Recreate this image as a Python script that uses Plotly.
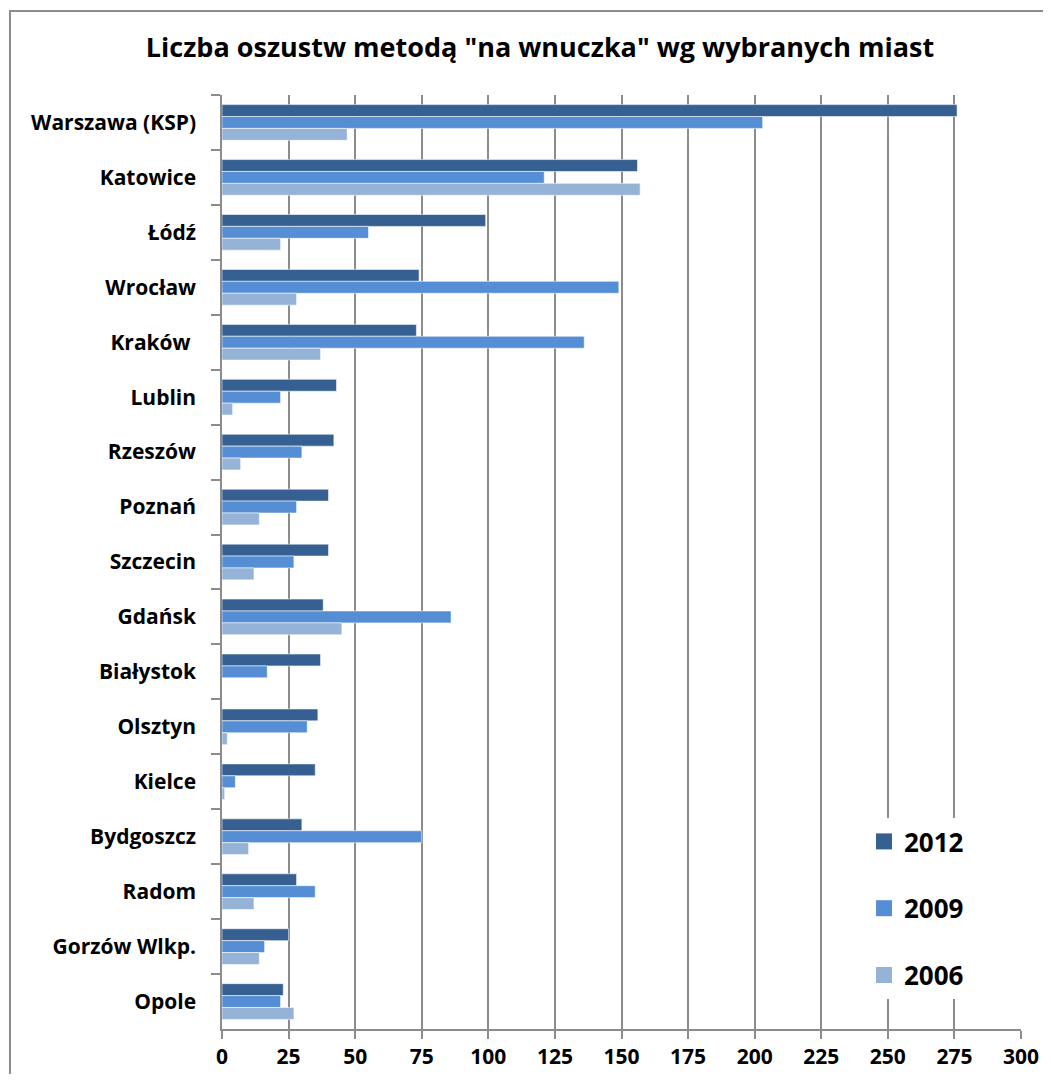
import plotly.graph_objects as go

cities = ["Warszawa (KSP)", "Katowice", "Łódź", "Wrocław", "Kraków ", "Lublin", "Rzeszów",
          "Poznań", "Szczecin", "Gdańsk", "Białystok", "Olsztyn", "Kielce", "Bydgoszcz",
          "Radom", "Gorzów Wlkp.", "Opole"]
v2012 = [276, 156, 99, 74, 73, 43, 42, 40, 40, 38, 37, 36, 35, 30, 28, 25, 23]
v2009 = [203, 121, 55, 149, 136, 22, 30, 28, 27, 86, 17, 32, 5, 75, 35, 16, 22]
v2006 = [47, 157, 22, 28, 37, 4, 7, 14, 12, 45, 0, 2, 1, 10, 12, 14, 27]
x_ticks = list(range(0, 301, 25))

series = [("2012", v2012, "#366092"), ("2009", v2009, "#558ED5"), ("2006", v2006, "#95B3D7")]

FONT = "Open Sans"
OFF = 8  # page body margin
W, H = 1051 - 2 * OFF, 1082 - 2 * OFF
# plot area in page pixels: x 222..1021, y 95..1029
ml, mt = 222 - OFF, 95 - OFF
mr = W - (1021 - OFF)
mb = H - (1029 - OFF)
pw, ph = W - ml - mr, H - mt - mb

fig = go.Figure()
for name, vals, col in series:
    fig.add_trace(go.Bar(
        y=cities, x=vals, name=name, orientation="h",
        marker=dict(color=col, line=dict(color="rgba(255,255,255,0.55)", width=1)),
        legendgroup=name, showlegend=False,
    ))
# legend entries with larger square swatches
for name, vals, col in series:
    fig.add_trace(go.Scatter(
        x=[None], y=[None], mode="markers", name=name, legendgroup=name,
        marker=dict(symbol="square", size=16, color=col),
        showlegend=True,
    ))

fig.update_layout(
    width=W, height=H,
    margin=dict(l=ml, r=mr, t=mt, b=mb, pad=0, autoexpand=False),
    paper_bgcolor="white", plot_bgcolor="white",
    barmode="group", bargap=0.35, bargroupgap=0,
    title=dict(text='Liczba oszustw metodą "na wnuczka" wg wybranych miast',
               x=(540 - OFF) / W, xanchor="center", y=1 - (48 - OFF) / H, yanchor="middle",
               font=dict(family=FONT, size=27, color="black", weight="bold")),
    font=dict(family=FONT, color="black"),
    showlegend=True,
    legend=dict(x=(864 - ml - OFF) / pw, xanchor="left", y=1 - (818 - mt - OFF) / ph, yanchor="top",
                bgcolor="white", borderwidth=0,
                font=dict(family=FONT, size=26, color="black", weight="bold"),
                traceorder="grouped", tracegroupgap=30, itemwidth=30),
    xaxis=dict(range=[0, 300], tickvals=x_ticks, ticktext=[str(t) for t in x_ticks],
               showgrid=True, gridcolor="#8c8c8c", gridwidth=1.5,
               showline=True, linecolor="#8c8c8c", linewidth=1.5,
               ticks="outside", ticklen=8, tickcolor="#8c8c8c", tickwidth=1.5,
               tickfont=dict(family=FONT, size=21, color="black", weight="bold"),
               zeroline=False, fixedrange=True, automargin=False),
    yaxis=dict(categoryorder="array", categoryarray=cities, autorange="reversed",
               showline=True, linecolor="#8c8c8c", linewidth=1.5,
               ticks="outside", ticklen=9, tickcolor="#8c8c8c", tickwidth=1.5,
               tickson="boundaries", ticklabelstandoff=20,
               tickfont=dict(family=FONT, size=21, color="black", weight="bold"),
               showgrid=False, zeroline=False, fixedrange=True, automargin=False),
)

# outer chart border (extends beyond the visible image at right and bottom)
fig.add_shape(type="rect", xref="paper", yref="paper",
              x0=(10 - OFF - ml) / pw, x1=(1100 - ml) / pw,
              y0=-(200) / ph, y1=1 + (mt - (11 - OFF)) / ph,
              line=dict(color="#8c8c8c", width=2), fillcolor="rgba(0,0,0,0)", layer="below")

fig.write_html("out.html")
